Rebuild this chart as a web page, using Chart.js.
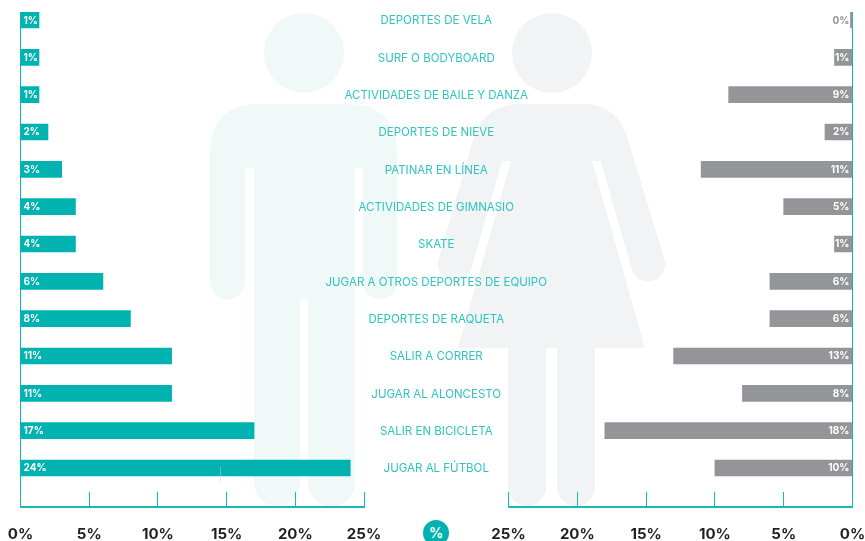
<!DOCTYPE html>
<html>
<head>
<meta charset="utf-8">
<style>
html,body{margin:0;padding:0;background:#fff;width:865px;height:541px;overflow:hidden;position:relative}
svg,canvas{position:absolute;top:0}
#pct{position:absolute;left:423px;top:520px;width:26px;height:26px;border-radius:50%;background:#00b3b0;color:#fff;font:700 14px Inter,sans-serif;text-align:center;line-height:26px}
#stray{position:absolute;left:220px;top:467px;width:1px;height:15px;background:rgba(205,212,212,.45)}
</style>
<script src="https://cdn.jsdelivr.net/npm/chart.js@4"></script>
</head>
<body>
<svg width="865" height="541">
<g fill="#f1f9f8">
<circle cx="304" cy="53" r="40"/>
<path d="M260 104H347Q397 104 397 154V282A17 17 0 0 1 363 282V168H355V483A23.500 23.500 0 0 1 308 483V299H300V483A23 23 0 0 1 254 483V168H245V282A17.500 17.500 0 0 1 210 282V154Q210 104 260 104Z"/>
</g>
<g fill="#f1f3f5">
<circle cx="552" cy="53" r="40"/>
<path d="M520 104H583Q618 104 628 140L664 258A17 17 0 0 1 632 270L600.700 161H592L645 348H595V487A19 19 0 0 1 557 487V348H546V487A19 19 0 0 1 508 487V348H458L511 161H502L471 270A17 17 0 0 1 439 258L473 140Q484 104 520 104Z"/>
</g>
</svg>
<canvas id="left" width="600" height="541" style="left:0"></canvas>
<canvas id="right" width="425" height="541" style="left:440px"></canvas>
<div id="pct">%</div>
<div id="stray"></div>
<script>
const categories = ["DEPORTES DE VELA","SURF O BODYBOARD","ACTIVIDADES DE BAILE Y DANZA","DEPORTES DE NIEVE","PATINAR EN LÍNEA","ACTIVIDADES DE GIMNASIO","SKATE","JUGAR A OTROS DEPORTES DE EQUIPO","DEPORTES DE RAQUETA","SALIR A CORRER","JUGAR AL ALONCESTO","SALIR EN BICICLETA","JUGAR AL FÚTBOL"];
const boys  = [1,1,1,2,3,4,4,6,8,11,11,17,24];
const girls = [0,1,9,2,11,5,1,6,6,13,8,18,10];
const axisTicks = [0,5,10,15,20,25];

const TEAL='#00b3b0', GRAY='#939598', LINE='#1db8b5', LABEL='#2fc4c0', DARK='#231f20';
const FONT='Inter, sans-serif';

const barLabels = {
  id:'barLabels',
  afterDatasetsDraw(chart){
    const c=chart.ctx, rev=chart.scales.x.options.reverse;
    c.save();
    c.font='700 10px '+FONT; c.textBaseline='middle'; c.textAlign=rev?'right':'left';
    chart.data.datasets.forEach((ds,di)=>{
      chart.getDatasetMeta(di).data.forEach((bar,i)=>{
        const v=ds.data[i].x;
        c.fillStyle = v===0 ? GRAY : '#fff';
        const x = rev ? bar.base-(v===0?1:2.500) : bar.base+2.500;
        c.fillText(v+'%',x,bar.y+0.500);
      });
    });
    c.restore();
  }
};

function xAxis(reverse){
  return {
    type:'linear',min:axisTicks[0],max:axisTicks[axisTicks.length-1],reverse,position:'bottom',
    afterBuildTicks(s){ s.ticks=axisTicks.map(v=>({value:v})); },
    afterFit(s){ s.height=34; s.paddingLeft=0; s.paddingRight=0; },
    border:{display:true,color:LINE,width:2},
    grid:{drawTicks:true,tickLength:-15,tickColor:LINE,tickWidth:1,lineWidth:1,
      color:c=>c.tick&&c.tick.value===0?'#00bdb9':'rgba(0,0,0,0)'},
    ticks:{maxRotation:0,autoSkip:false,padding:33,color:DARK,font:{family:FONT,size:15,weight:'700'},callback:v=>v+'%'}
  };
}
function yBase(){
  return {type:'linear',reverse:true,offset:false,min:-0.2143,max:13.045,
    border:{display:false},grid:{display:false,offset:false}};
}
const pts = arr => arr.map((v,i)=>({x:v,y:i}));

new Chart(document.getElementById('left'),{
  type:'bar',
  data:{datasets:[{data:pts(boys),backgroundColor:TEAL,barThickness:16,minBarLength:18.500}]},
  options:{
    indexAxis:'y',responsive:false,animation:false,devicePixelRatio:1,
    layout:{padding:{left:20.500,top:12,right:0,bottom:0}},
    plugins:{legend:{display:false},tooltip:{enabled:false}},
    scales:{
      x:xAxis(false),
      y:Object.assign(yBase(),{display:false}),
      yLabels:Object.assign(yBase(),{axis:'y',position:'right',min:-0.2413,max:13.018,
        afterFit(s){ s.width=236; s.paddingTop=0; s.paddingBottom=0; },
        ticks:{stepSize:1,autoSkip:false,mirror:true,crossAlign:'center',padding:183,color:LABEL,
          includeBounds:false,font:{family:FONT,size:11.500},
          callback:v=>categories[v]??''}})
    }
  },
  plugins:[barLabels]
});

new Chart(document.getElementById('right'),{
  type:'bar',
  data:{datasets:[
    {data:pts(girls).filter(p=>p.x>0),backgroundColor:GRAY,barThickness:16,minBarLength:18,grouped:false},
    {data:pts(girls).filter(p=>p.x===0),backgroundColor:GRAY,barThickness:16,base:0.150,grouped:false}
  ]},
  options:{
    indexAxis:'y',responsive:false,animation:false,devicePixelRatio:1,
    layout:{padding:{left:68.500,top:12,right:12.500,bottom:0}},
    plugins:{legend:{display:false},tooltip:{enabled:false}},
    scales:{
      x:xAxis(true),
      y:Object.assign(yBase(),{display:false})
    }
  },
  plugins:[barLabels]
});
</script>
</body>
</html>
